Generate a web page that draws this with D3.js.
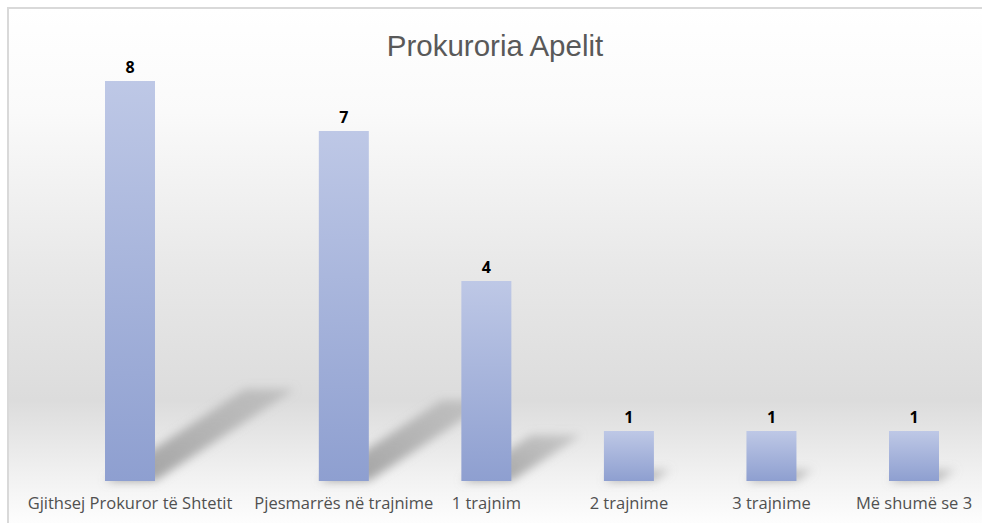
<html>
  <head>
    <script src="https://cdnjs.cloudflare.com/ajax/libs/d3/7.9.0/d3.min.js"></script>
    <style>
      body { margin: 0; background: #fff; }
      text { font-family: 'Open Sans', sans-serif; }
    </style>
  </head>
  <body onload="main()">
  </body>
  <script>
    const title = 'Prokuroria Apelit'
    const categories = [
      'Gjithsej Prokuror të Shtetit',
      'Pjesmarrës në trajnime',
      '1 trajnim',
      '2 trajnime',
      '3 trajnime',
      'Më shumë se 3'
    ]
    const values = [8, 7, 4, 1, 1, 1]

    function main() {
      const width = 982
      const height = 523
      const baseY = 481
      const barW = 50

      const svg = d3.select('body')
        .append('svg')
        .attr('width', width)
        .attr('height', height)

      const defs = svg.append('defs')
      const bg = defs.append('linearGradient')
        .attr('id', 'bg')
        .attr('x1', 0).attr('y1', 0).attr('x2', 0).attr('y2', 1)
      bg.append('stop').attr('offset', '0').attr('stop-color', '#ffffff')
      bg.append('stop').attr('offset', '0.2').attr('stop-color', '#fafafa')
      bg.append('stop').attr('offset', '0.5').attr('stop-color', '#e8e8e8')
      bg.append('stop').attr('offset', '0.75').attr('stop-color', '#dcdcdc')
      bg.append('stop').attr('offset', '0.9').attr('stop-color', '#f2f2f2')
      bg.append('stop').attr('offset', '1').attr('stop-color', '#ffffff')

      const barGrad = defs.append('linearGradient')
        .attr('id', 'bar')
        .attr('x1', 0).attr('y1', 0).attr('x2', 0).attr('y2', 1)
      barGrad.append('stop').attr('offset', '0').attr('stop-color', '#bec8e6')
      barGrad.append('stop').attr('offset', '1').attr('stop-color', '#8e9fd0')

      const shGrad = defs.append('linearGradient')
        .attr('id', 'shadow')
        .attr('x1', 0).attr('y1', 1).attr('x2', 1).attr('y2', 0)
      shGrad.append('stop').attr('offset', '0').attr('stop-color', '#8f8f8f').attr('stop-opacity', 0.85)
      shGrad.append('stop').attr('offset', '1').attr('stop-color', '#999').attr('stop-opacity', 0.4)

      defs.append('filter')
        .attr('id', 'blur')
        .attr('x', '-20%').attr('y', '-20%').attr('width', '140%').attr('height', '140%')
        .append('feGaussianBlur')
        .attr('stdDeviation', 5)

      // chart area with border
      svg.append('rect')
        .attr('x', 8).attr('y', 8)
        .attr('width', width)
        .attr('height', height)
        .attr('fill', 'url(#bg)')
        .attr('stroke', '#d9d9d9')
        .attr('stroke-width', 2)

      svg.append('text')
        .attr('x', 495)
        .attr('y', 56)
        .attr('text-anchor', 'middle')
        .attr('fill', '#595959')
        .style('font-family', "'Liberation Sans', Arial, sans-serif")
        .style('font-size', '29.5px')
        .text(title)

      // first category gets a wider slot in the original
      const slot = i => i === 0 ? 0 : i + 0.5
      const x = d3.scaleLinear().domain([0, slot(categories.length - 1)]).range([130, 914])
      const y = d3.scaleLinear().domain([0, 8]).range([baseY, 81])

      const data = categories.map((c, i) => ({ c, v: values[i], cx: x(slot(i)) }))

      // perspective shadows
      svg.append('g')
        .attr('filter', 'url(#blur)')
        .selectAll('path')
        .data(data)
        .enter()
        .append('path')
        .attr('fill', 'url(#shadow)')
        .attr('d', d => {
          const h = baseY - y(d.v)
          const dx = h * 0.35
          const dy = h * 0.23
          const x0 = d.cx - barW / 2
          const x1 = d.cx + barW / 2
          return `M${x0},${baseY} L${x1},${baseY} L${x1 + dx},${baseY - dy} L${x0 + dx},${baseY - dy} Z`
        })

      svg.append('g')
        .selectAll('rect')
        .data(data)
        .enter()
        .append('rect')
        .attr('x', d => d.cx - barW / 2)
        .attr('y', d => y(d.v))
        .attr('width', barW)
        .attr('height', d => baseY - y(d.v))
        .attr('fill', 'url(#bar)')

      svg.append('g')
        .selectAll('text')
        .data(data)
        .enter()
        .append('text')
        .attr('x', d => d.cx)
        .attr('y', d => y(d.v) - 8)
        .attr('text-anchor', 'middle')
        .attr('fill', '#000')
        .style('font-weight', 'bold')
        .style('font-size', '16px')
        .text(d => d.v)

      svg.append('g')
        .selectAll('text')
        .data(data)
        .enter()
        .append('text')
        .attr('x', d => d.cx)
        .attr('y', 509)
        .attr('text-anchor', 'middle')
        .attr('fill', '#505050')
        .style('font-size', '16.5px')
        .text(d => d.c)
    }
  </script>
</html>
